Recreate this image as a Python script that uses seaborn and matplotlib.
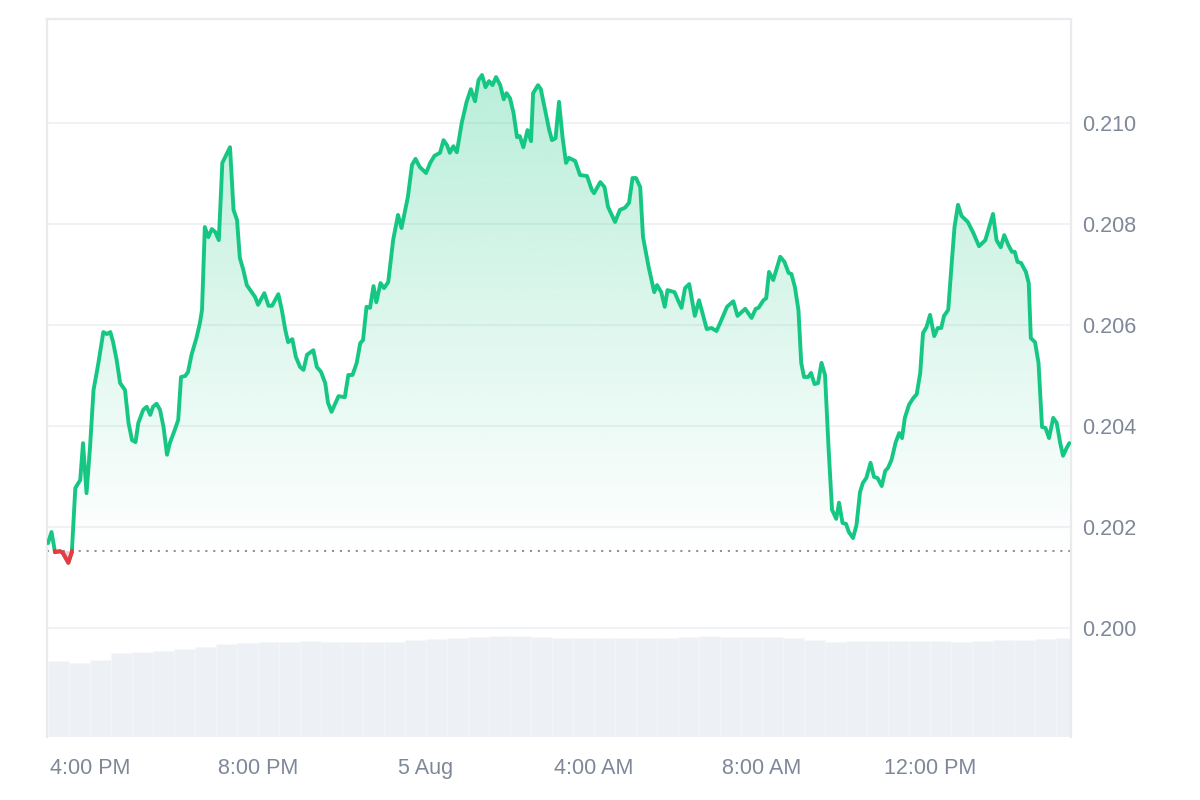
import numpy as np
import matplotlib
matplotlib.use("Agg")
import matplotlib.pyplot as plt
import seaborn as sns
from matplotlib.colors import LinearSegmentedColormap, to_rgb
from matplotlib.path import Path

# ---------------- data ----------------
# minutes since 4 Aug 15:00
minutes = [0, 5, 10, 17, 21, 29, 34, 39, 46, 50, 55, 60, 65, 72, 79, 84, 89, 93, 98, 103,
           110, 115, 120, 125, 129, 136, 141, 146, 150, 155, 160, 165, 170, 174, 181, 186, 190, 196, 200, 205,
           212, 217, 220, 224, 229, 234, 239, 244, 249, 260, 265, 270, 274, 279, 284, 291, 296, 300, 309, 315,
           320, 329, 334, 339, 343, 349, 354, 360, 365, 370, 379, 384, 390, 396, 400, 405, 415, 424, 429, 435,
           441, 446, 450, 455, 460, 465, 469, 475, 480, 486, 493, 500, 505, 514, 520, 525, 531, 540, 546, 552,
           560, 565, 570, 574, 579, 584, 591, 598, 604, 610, 615, 620, 625, 630, 635, 640, 646, 651, 655, 660,
           665, 670, 674, 679, 685, 690, 693, 700, 704, 710, 716, 720, 725, 730, 735, 740, 744, 753, 760, 770,
           777, 780, 789, 795, 800, 810, 817, 824, 830, 835, 840, 846, 850, 858, 866, 870, 876, 881, 885, 895,
           900, 905, 910, 916, 924, 930, 941, 948, 955, 962, 970, 979, 985, 996, 1005, 1011, 1015, 1022, 1026, 1030,
           1036, 1046, 1052, 1058, 1062, 1067, 1072, 1076, 1080, 1086, 1090, 1095, 1100, 1105, 1110, 1115, 1120, 1126, 1130, 1135,
           1140, 1144, 1150, 1155, 1160, 1164, 1169, 1175, 1180, 1185, 1191, 1196, 1200, 1205, 1211, 1216, 1220, 1224, 1230, 1236,
           1241, 1246, 1250, 1255, 1260, 1266, 1271, 1276, 1280, 1286, 1291, 1295, 1300, 1305, 1314, 1322, 1330, 1339, 1350, 1355,
           1361, 1366, 1372, 1377, 1381, 1385, 1390, 1397, 1401, 1404, 1410, 1415, 1420, 1425, 1430, 1436, 1441, 1446, 1450, 1455,
           1459]
prices = [0.20168, 0.20190, 0.20150, 0.20152, 0.20149, 0.20129, 0.20150, 0.20277, 0.20293, 0.20366,
          0.20267, 0.20358, 0.20471, 0.20525, 0.20586, 0.20582, 0.20586, 0.20566, 0.20531, 0.20485,
          0.20471, 0.20406, 0.20372, 0.20368, 0.20406, 0.20432, 0.20438, 0.20422, 0.20438, 0.20444,
          0.20432, 0.20398, 0.20343, 0.20366, 0.20392, 0.20412, 0.20497, 0.20499, 0.20507, 0.20541,
          0.20574, 0.20604, 0.20630, 0.20794, 0.20774, 0.20790, 0.20784, 0.20768, 0.20921, 0.20952,
          0.20828, 0.20808, 0.20733, 0.20709, 0.20679, 0.20665, 0.20655, 0.20640, 0.20663, 0.20638,
          0.20638, 0.20661, 0.20630, 0.20590, 0.20566, 0.20572, 0.20537, 0.20517, 0.20511, 0.20541,
          0.20550, 0.20517, 0.20507, 0.20485, 0.20446, 0.20428, 0.20459, 0.20457, 0.20501, 0.20501,
          0.20525, 0.20564, 0.20570, 0.20636, 0.20634, 0.20677, 0.20645, 0.20683, 0.20673, 0.20685,
          0.20768, 0.20818, 0.20792, 0.20853, 0.20917, 0.20929, 0.20913, 0.20901, 0.20921, 0.20935,
          0.20941, 0.20966, 0.20956, 0.20941, 0.20954, 0.20942, 0.21000, 0.21042, 0.21067, 0.21043,
          0.21085, 0.21095, 0.21071, 0.21083, 0.21075, 0.21091, 0.21075, 0.21047, 0.21059, 0.21049,
          0.21020, 0.20972, 0.20974, 0.20952, 0.20986, 0.20964, 0.21059, 0.21075, 0.21067, 0.21026,
          0.20986, 0.20966, 0.20970, 0.21042, 0.20972, 0.20921, 0.20931, 0.20925, 0.20897, 0.20895,
          0.20867, 0.20861, 0.20883, 0.20873, 0.20834, 0.20804, 0.20828, 0.20832, 0.20842, 0.20891,
          0.20891, 0.20873, 0.20774, 0.20715, 0.20665, 0.20679, 0.20665, 0.20636, 0.20669, 0.20665,
          0.20649, 0.20634, 0.20673, 0.20681, 0.20618, 0.20649, 0.20592, 0.20594, 0.20588, 0.20610,
          0.20636, 0.20647, 0.20618, 0.20632, 0.20614, 0.20632, 0.20634, 0.20649, 0.20653, 0.20705,
          0.20689, 0.20735, 0.20725, 0.20703, 0.20701, 0.20675, 0.20630, 0.20525, 0.20497, 0.20497,
          0.20505, 0.20483, 0.20485, 0.20525, 0.20501, 0.20358, 0.20234, 0.20216, 0.20248, 0.20208,
          0.20206, 0.20190, 0.20178, 0.20204, 0.20269, 0.20287, 0.20297, 0.20327, 0.20299, 0.20297,
          0.20281, 0.20311, 0.20317, 0.20333, 0.20368, 0.20386, 0.20376, 0.20416, 0.20442, 0.20455,
          0.20463, 0.20505, 0.20584, 0.20596, 0.20620, 0.20578, 0.20594, 0.20594, 0.20618, 0.20630,
          0.20723, 0.20794, 0.20838, 0.20816, 0.20804, 0.20782, 0.20756, 0.20768, 0.20820, 0.20768,
          0.20754, 0.20778, 0.20758, 0.20745, 0.20745, 0.20725, 0.20723, 0.20705, 0.20683, 0.20574,
          0.20566, 0.20525, 0.20398, 0.20396, 0.20376, 0.20416, 0.20406, 0.20366, 0.20341, 0.20356,
          0.20366]
baseline_price = 0.20153

# volume (millions, 30-minute buckets starting at minute 0)
vol_minutes = [0, 30, 60, 90, 120, 150, 180, 210, 240, 270, 300, 330, 360, 390, 420, 450, 480,
               510, 540, 570, 600, 630, 660, 690, 720, 750, 780, 810, 840, 870, 900, 930, 960,
               990, 1020, 1050, 1080, 1110, 1140, 1170, 1200, 1230, 1260, 1290, 1320, 1350, 1380,
               1410, 1440]
volumes = [38.0, 37.0, 38.5, 42.0, 42.5, 43.0, 44.0, 45.0, 46.5, 47.0, 47.5, 47.5, 48.0,
           47.5, 47.5, 47.5, 47.5, 48.5, 49.0, 49.5, 50.0, 50.5, 50.5, 50.0, 49.5, 49.5, 49.5,
           49.5, 49.5, 49.5, 50.0, 50.5, 50.0, 50.0, 50.0, 49.5, 48.5, 47.5, 48.0, 48.0, 48.0,
           48.0, 48.0, 47.5, 48.0, 48.5, 48.5, 49.0, 49.5]

tick_minutes = [60, 300, 540, 780, 1020, 1260]
tick_labels = ["4:00 PM", "8:00 PM", "5 Aug", "4:00 AM", "8:00 AM", "12:00 PM"]
y_ticks = [0.200, 0.202, 0.204, 0.206, 0.208, 0.210]

# ---------------- style ----------------
GREEN = "#16c784"
RED = "#ea3943"
GRID = "#eff1f4"
TEXT = "#7f8898"
VOLC = "#edf0f4"

sns.set_theme(style="white")
plt.rcParams["font.family"] = ["Liberation Sans", "DejaVu Sans"]

fig = plt.figure(figsize=(12, 8), dpi=100)
ax = fig.add_axes([0.0392, 0.07875, 0.8533, 0.8975])
ax2 = ax.twinx()
ax.set_zorder(ax2.get_zorder() + 1)
ax.patch.set_visible(False)

m = np.array(minutes, dtype=float)
p = np.array(prices)
XMIN, XMAX = -1.4, 1461.4
YMIN, YMAX = 0.19784, 0.21206

# volume bars
ax2.bar(vol_minutes, volumes, width=30, align="edge", color=VOLC,
        edgecolor="#f7f8fa", linewidth=0.4)
ax2.set_ylim(0, max(volumes) * 7.11)
ax2.set_yticks([])
for s in ax2.spines.values():
    s.set_visible(False)

# grid
for yt in y_ticks:
    ax.axhline(yt, color=GRID, lw=1.3, zorder=0.5)

# gradient fill above baseline
poly = ax.fill_between(m, p, baseline_price, where=p >= baseline_price,
                       interpolate=True, color="none", lw=0)
rgb = to_rgb(GREEN)
cmap = LinearSegmentedColormap.from_list("g", [(*rgb, 0.0), (*rgb, 0.30)])
grad = np.linspace(0, 1, 256).reshape(-1, 1)
im = ax.imshow(grad, extent=[XMIN, XMAX, baseline_price, p.max()], origin="lower",
               aspect="auto", cmap=cmap, zorder=1, interpolation="bicubic")
clip = Path.make_compound_path(*poly.get_paths())
im.set_clip_path(clip, transform=ax.transData)

# red fill below baseline
ax.fill_between(m, p, baseline_price, where=p < baseline_price, interpolate=True,
                color=RED, alpha=0.25, lw=0, zorder=1)

# baseline
ax.axhline(baseline_price, color="#8d939c", lw=1.5, ls=(0, (1, 2.8)), zorder=1.5)

# price line
sns.lineplot(x=m, y=p, color=GREEN, lw=2.8, ax=ax, zorder=3)

# red part of line (below baseline)
rx, ry = [], []
below = p < baseline_price
for i in range(len(p) - 1):
    if below[i]:
        rx.append(m[i]); ry.append(p[i])
    if below[i] != below[i + 1]:
        xc = m[i] + (baseline_price - p[i]) * (m[i + 1] - m[i]) / (p[i + 1] - p[i])
        rx.append(xc); ry.append(baseline_price)
        if below[i]:
            rx.append(np.nan); ry.append(np.nan)
if below[-1]:
    rx.append(m[-1]); ry.append(p[-1])
ax.plot(rx, ry, color=RED, lw=2.8, zorder=4, solid_capstyle="round")

# axes
ax.set_xlim(XMIN, XMAX)
ax.set_ylim(YMIN, YMAX)
ax2.set_xlim(XMIN, XMAX)
ax.yaxis.tick_right()
ax.set_yticks(y_ticks)
ax.set_yticklabels([f"{v:.3f}" for v in y_ticks])
ax.set_xticks(tick_minutes)
ax.set_xticklabels(tick_labels)
ax.tick_params(axis="both", length=0, labelsize=15.5, colors=TEXT)
ax.tick_params(axis="y", pad=8)
ax.tick_params(axis="x", pad=15)
ax.set_xlabel(""); ax.set_ylabel("")
for side in ["left", "top", "right"]:
    ax.spines[side].set_visible(True)
    ax.spines[side].set_color("#e9ebef")
    ax.spines[side].set_linewidth(1.6)
ax.spines["bottom"].set_visible(False)
ax.grid(False)

fig.savefig("out.png", dpi=100, facecolor="white")
